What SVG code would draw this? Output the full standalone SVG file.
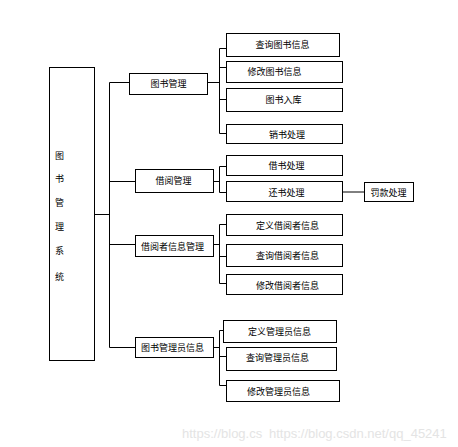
<svg xmlns="http://www.w3.org/2000/svg" width="458" height="447" viewBox="0 0 458 447">
<style>
rect{fill:#fff;stroke:#000;stroke-width:1}
text{font-family:"Noto Sans CJK SC","Liberation Sans",sans-serif;font-size:9px;fill:#000;text-anchor:middle;dominant-baseline:central}
.c path{fill:none;stroke:#000;stroke-width:1}
.wm{font-family:"Liberation Sans",sans-serif;font-size:13px;fill:#e4e4e4;text-anchor:start}
</style>
<rect x="0" y="0" width="458" height="447" style="stroke:none"/>
<g class="c" id="connectors">
<path d="M94.5,214.5H109.5M109.5,82.5V347.5M109.5,82.5H129.5M109.5,181.5H135.5M109.5,244.5H135.5M109.5,347.5H135.5"/>
<path d="M207.5,82.5H219.5M219.5,48.5V133.5M219.5,48.5H226M219.5,67.5H226M219.5,99.5H226M219.5,133.5H226"/>
<path d="M213.5,181.5H219.5M219.5,166.5V192.5M219.5,166.5H226M219.5,192.5H226M342.5,192H364.5"/>
<path d="M213.5,244.5H219.5M219.5,224.5V283.5M219.5,224.5H226M219.5,256.5H226M219.5,283.5H226"/>
<path d="M213.5,347.5H219.5M219.5,330.5V385.5M219.5,330.5H223.5M219.5,356.5H226M219.5,385.5H226"/>
</g>
<g id="root"><rect x="49.5" y="67.5" width="45" height="293"/>
<text x="59.5" y="155">图</text><text x="59.5" y="178">书</text><text x="59.5" y="202">管</text><text x="59.5" y="226">理</text><text x="59.5" y="250">系</text><text x="59.5" y="276">统</text></g>
<g id="n-book"><rect x="129.5" y="73.5" width="78" height="21"/><text x="168.5" y="83.5">图书管理</text></g>
<g id="n-borrow"><rect x="135.5" y="169.5" width="78" height="23"/><text x="173.5" y="180.5">借阅管理</text></g>
<g id="n-reader"><rect x="135.5" y="235.5" width="78" height="21"/><text x="172.5" y="246">借阅者信息管理</text></g>
<g id="n-admin"><rect x="135.5" y="337.5" width="78" height="20"/><text x="172.5" y="347">图书管理员信息</text></g>
<g id="n-b1"><rect x="226.5" y="33.5" width="113" height="23"/><text x="282.5" y="44.5">查询图书信息</text></g>
<g id="n-b2"><rect x="226.5" y="61.5" width="116" height="21"/><text x="274.5" y="71.5">修改图书信息</text></g>
<g id="n-b3"><rect x="226.5" y="88.5" width="116" height="23"/><text x="283.5" y="99">图书入库</text></g>
<g id="n-b4"><rect x="226.5" y="124.5" width="116" height="19"/><text x="287" y="134.5">销书处理</text></g>
<g id="n-r1"><rect x="226.5" y="155.5" width="116" height="20"/><text x="286.5" y="165.5">借书处理</text></g>
<g id="n-r2"><rect x="226.5" y="181.5" width="116" height="20"/><text x="286.5" y="192">还书处理</text></g>
<g id="n-fine"><rect x="364.5" y="182.5" width="49" height="19"/><text x="388.5" y="192">罚款处理</text></g>
<g id="n-d1"><rect x="226.5" y="214.5" width="116" height="21"/><text x="287.5" y="225">定义借阅者信息</text></g>
<g id="n-d2"><rect x="226.5" y="244.5" width="116" height="22"/><text x="287.5" y="255.5">查询借阅者信息</text></g>
<g id="n-d3"><rect x="226.5" y="274.5" width="116" height="20"/><text x="287.5" y="285">修改借阅者信息</text></g>
<g id="n-a1"><rect x="223.5" y="320.5" width="113" height="22"/><text x="279.5" y="331">定义管理员信息</text></g>
<g id="n-a2"><rect x="226.5" y="347.5" width="110" height="23"/><text x="277.5" y="357.5">查询管理员信息</text></g>
<g id="n-a3"><rect x="226.5" y="380.5" width="113" height="21"/><text x="278.5" y="391">修改管理员信息</text></g>
<text class="wm" x="182" y="433">https://blog.cs</text>
<text class="wm" x="269" y="433">https://blog.csdn.net/qq_45241</text>
</svg>
